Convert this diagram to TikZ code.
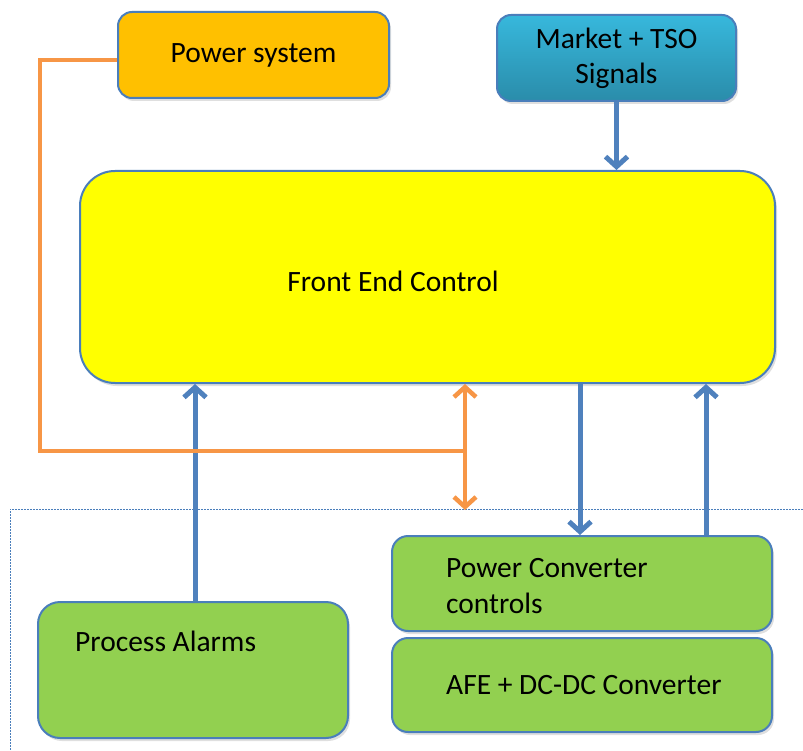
\documentclass[tikz,border=0pt]{standalone}
\usepackage{fontspec}
\setmainfont{Carlito}
\usetikzlibrary{arrows.meta,shadows}
\definecolor{bordblue}{HTML}{4A7EBB}
\definecolor{arrblue}{HTML}{4F81BD}
\definecolor{orangeln}{HTML}{F79646}
\definecolor{psfill}{HTML}{FFC000}
\definecolor{greenfill}{HTML}{92D050}
\definecolor{fecfill}{HTML}{FFFF00}
\definecolor{mkttop}{HTML}{37B8DC}
\definecolor{mktbot}{HTML}{2A8CAA}
\tikzset{
  box/.style={draw=bordblue, line width=2pt, rounded corners=14pt, inner sep=0pt,
    drop shadow={opacity=0.25, shadow xshift=2pt, shadow yshift=-3pt},
    font=\fontsize{29.5}{35}\selectfont, align=center},
  txt/.style={font=\fontsize{29.5}{36}\selectfont, inner sep=0pt, align=left},
  barrow/.style={draw=arrblue, line width=5pt, -{Straight Barb[length=10pt,width=22pt]}},
  oline/.style={draw=orangeln, line width=4.5pt},
  oarrow/.style={draw=orangeln, line width=4.5pt, -{Straight Barb[length=10pt,width=22pt]}},
}
\begin{document}
\begin{tikzpicture}[x=1pt,y=-1pt]
\useasboundingbox (0,0) rectangle (803,751);
% dashed region
\draw[draw=bordblue, line width=0.8pt, dash pattern=on 2pt off 1pt] (803,509) -- (10,509) -- (10,751);
% boxes
\node[box, fill=psfill, minimum width=271pt, minimum height=86pt] (ps) at (253.5,55) {\raisebox{-3pt}{Power system}};
\node[box, top color=mkttop, bottom color=mktbot, minimum width=239pt, minimum height=86pt] (mkt) at (616.5,58) {Market + TSO\\Signals};
\node[box, fill=fecfill, rounded corners=35pt, minimum width=695pt, minimum height=212pt] (fec) at (427.5,277) {};
\node[txt] (fect) at (393,281) {Front End Control};
\node[box, fill=greenfill, rounded corners=16pt, minimum width=380pt, minimum height=95pt] (pcc) at (582,583.5) {};
\node[txt, anchor=west] (pcct) at (446,586) {Power Converter\\controls};
\node[box, fill=greenfill, rounded corners=16pt, minimum width=380pt, minimum height=94pt] (afe) at (582,685) {};
\node[txt, anchor=west] (afet) at (446,685) {AFE + DC-DC Converter};
\node[box, fill=greenfill, rounded corners=22pt, minimum width=310pt, minimum height=136pt] (pa) at (193,670) {};
\node[txt, anchor=west] (pat) at (75,641) {Process Alarms};
% coordinates
\coordinate (oj) at (465,451);
\coordinate (ocorner1) at (40,60);
\coordinate (ocorner2) at (40,451);
\coordinate (odn) at (467,510);
% arrows
\draw[barrow] (mkt.south) -- (mkt.south |- fec.north);
\draw[barrow] ([xshift=2pt]pa.north) -- ([xshift=2pt]pa.north |- fec.south);
\draw[barrow] (fec.south -| 580,0) -- (pcc.north -| 580,0);
\draw[barrow] (pcc.north -| 706,0) -- (fec.south -| 706,0);
% orange
\draw[oline, line join=miter] (ps.west |- ocorner1) -- (ocorner1) -- (ocorner2) -- (oj);
\draw[oarrow] (oj) -- (oj |- fec.south);
\draw[oarrow] (oj) -- (oj |- odn);
\end{tikzpicture}
\end{document}
